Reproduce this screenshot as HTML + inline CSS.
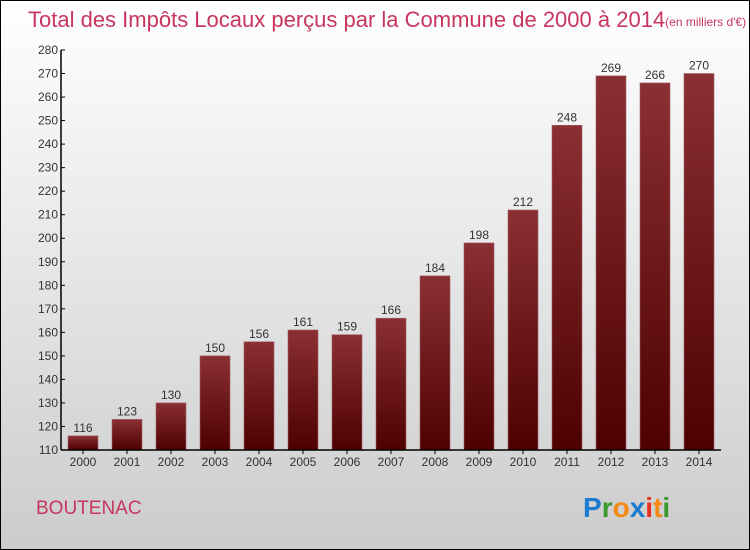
<!DOCTYPE html>
<html><head><meta charset="utf-8"><style>
body{margin:0;width:750px;height:550px;overflow:hidden;font-family:"Liberation Sans",sans-serif}
#wrap{position:absolute;left:0;top:0;width:748px;height:548px;border:1px solid #000;background:linear-gradient(#fff,#ccc)}
</style></head><body>
<div id="wrap">
<svg width="750" height="550" style="position:absolute;left:-1px;top:-1px" id="svg">
<defs><linearGradient id="bg" x1="0" y1="0" x2="0" y2="1"><stop offset="0" stop-color="#8a3034"/><stop offset="1" stop-color="#4e0000"/></linearGradient></defs>
<text x="28" y="27" font-size="22" fill="#c8365f">Total des Impôts Locaux perçus par la Commune de 2000 à 2014<tspan font-size="12" dy="-1">(en milliers d'€)</tspan></text>
<text x="36" y="514" font-size="19" fill="#c8365f">BOUTENAC</text>
<text x="583" y="517" font-size="28" font-weight="bold"><tspan fill="#1a7bd0">P</tspan><tspan fill="#3a9a30">r</tspan><tspan fill="#f58a10">o</tspan><tspan fill="#1a7bd0">x</tspan><tspan fill="#e83020">i</tspan><tspan fill="#f58a10">t</tspan><tspan fill="#3a9a30">i</tspan></text>
<g id="plot"></g>
</svg></div>
<script>
const years=["2000","2001","2002","2003","2004","2005","2006","2007","2008","2009","2010","2011","2012","2013","2014"];
const values=[116,123,130,150,156,161,159,166,184,198,212,248,269,266,270];
const ticks=[110,120,130,140,150,160,170,180,190,200,210,220,230,240,250,260,270,280];
const NS="http://www.w3.org/2000/svg";
const g=document.getElementById('plot');
const x0=61,x1=721,yTop=50,yBot=450,vMin=110,vMax=280;
const y=v=>yBot-(v-vMin)/(vMax-vMin)*(yBot-yTop);
const band=(x1-x0)/years.length;
const xc=i=>x0+band*(i+0.5);
function el(t,a,txt){const e=document.createElementNS(NS,t);for(const k in a)e.setAttribute(k,a[k]);if(txt!=null)e.textContent=txt;g.appendChild(e);return e;}
ticks.forEach(t=>{
const l=el('line',{x1:x0,x2:x0+4,y1:y(t),y2:y(t),stroke:'#000'});


const tx=el('text',{x:x0-3,y:y(t)+4,'font-size':12,'text-anchor':'end',fill:'#333'},t);


});
values.forEach((v,i)=>{
const r=el('rect',{x:xc(i)-15,y:y(v),width:30,height:yBot-y(v),fill:'url(#bg)',stroke:'#a06066','stroke-width':0.6});


const lb=el('text',{x:xc(i),y:y(v)-4,'font-size':12,'text-anchor':'middle',fill:'#333'},v);


const xl=el('text',{x:xc(i),y:466,'font-size':12,'text-anchor':'middle',fill:'#333'},years[i]);


const xt=el('line',{x1:xc(i),x2:xc(i),y1:yBot,y2:yBot+4,stroke:'#000'});


});
const ya=el('line',{x1:x0,x2:x0,y1:yTop,y2:yBot,stroke:'#000','stroke-width':1.5});


const xa=el('line',{x1:x0,x2:x1,y1:yBot,y2:yBot,stroke:'#000','stroke-width':1.5});


</script>
</body></html>
